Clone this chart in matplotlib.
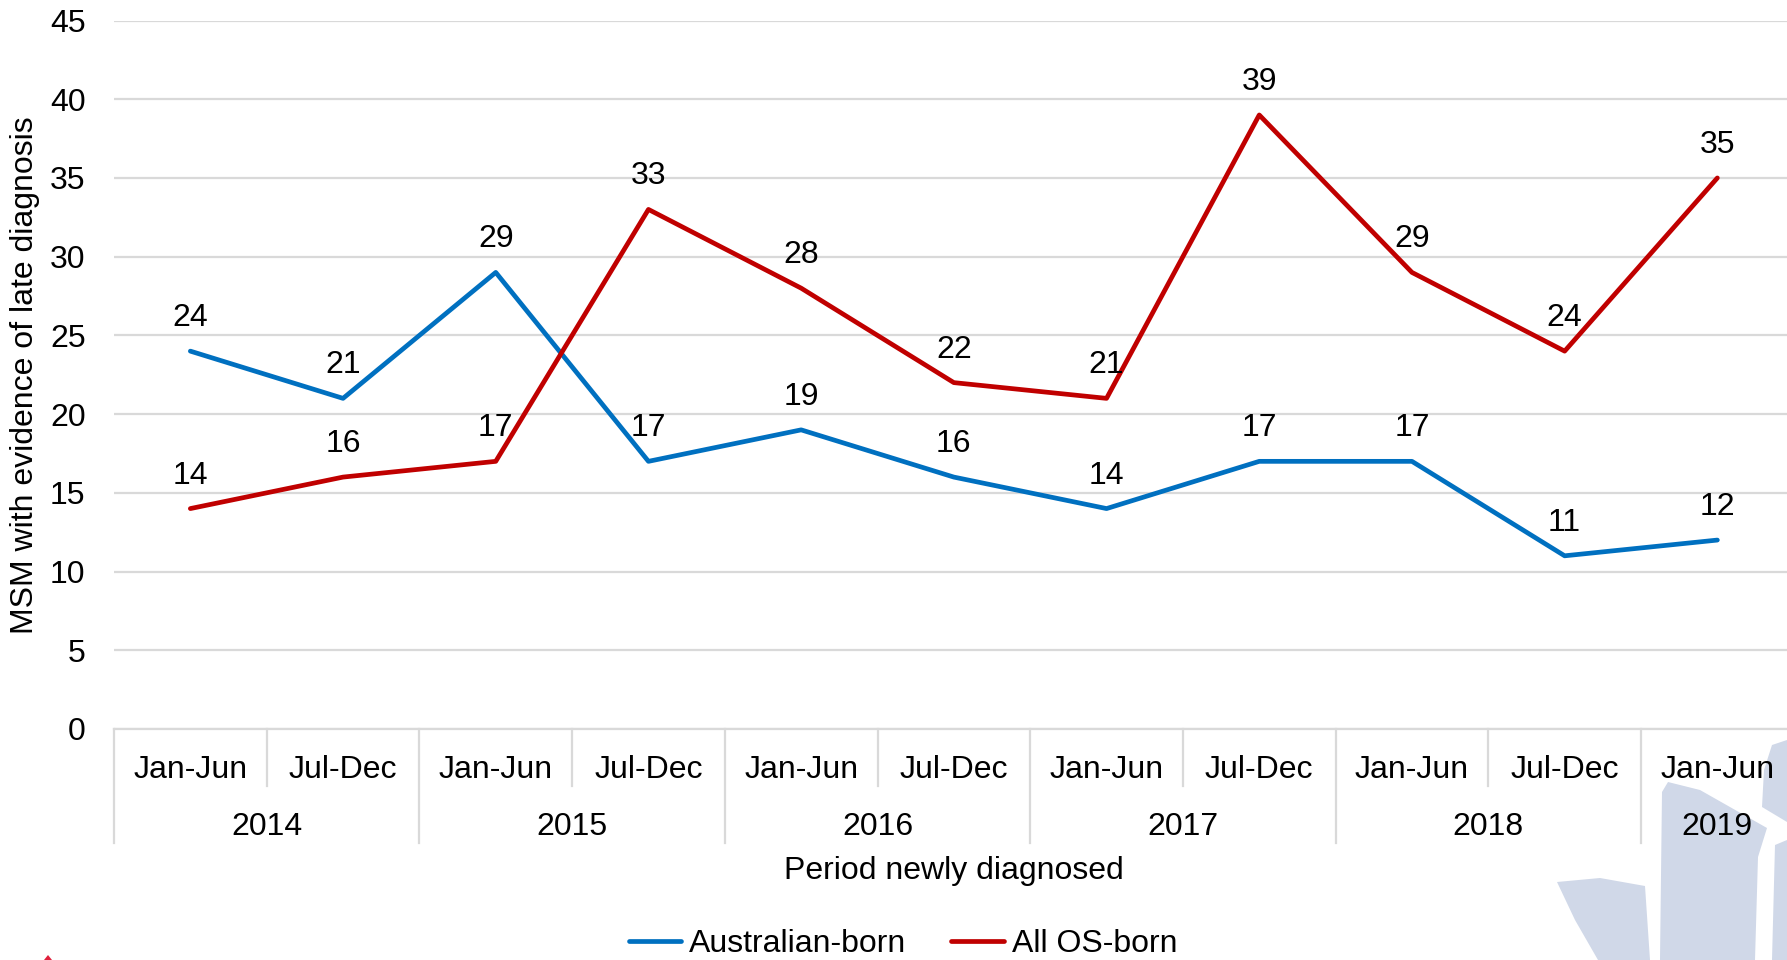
import matplotlib
matplotlib.use("Agg")
import matplotlib.pyplot as plt
from matplotlib.patches import Polygon
from matplotlib.transforms import blended_transform_factory

plt.rcParams['font.family'] = ['Liberation Sans', 'DejaVu Sans']

# ---- data ----
periods = ["Jan-Jun", "Jul-Dec", "Jan-Jun", "Jul-Dec", "Jan-Jun", "Jul-Dec",
           "Jan-Jun", "Jul-Dec", "Jan-Jun", "Jul-Dec", "Jan-Jun"]
years = ["2014", "2015", "2016", "2017", "2018", "2019"]
australian_born = [24, 21, 29, 17, 19, 16, 14, 17, 17, 11, 12]
os_born = [14, 16, 17, 33, 28, 22, 21, 39, 29, 24, 35]
yticks = [0, 5, 10, 15, 20, 25, 30, 35, 40, 45]

BLUE = "#0070C0"
RED = "#C00000"
GRID = "#D9D9D9"
FS = 23

W, H = 1787, 960
fig = plt.figure(figsize=(W / 100, H / 100), dpi=100)

def fx(px):
    return px / W

def fy(py):
    return 1 - py / H

# decorative logo shapes (bottom right), drawn behind everything
logo_col = "#D0D8E8"
shapes = [
    [(1557, 882), (1600, 878), (1645, 886), (1650, 960), (1598, 960), (1575, 920)],
    [(1662, 792), (1668, 782), (1700, 790), (1767, 828), (1758, 857), (1755, 960), (1660, 960)],
    [(1772, 745), (1787, 740), (1787, 822), (1762, 807), (1764, 770)],
    [(1775, 845), (1787, 840), (1787, 960), (1772, 960)],
]
for s in shapes:
    fig.patches.append(Polygon([(fx(x), fy(y)) for x, y in s], closed=True,
                               facecolor=logo_col, edgecolor='none',
                               transform=fig.transFigure, zorder=-5))
fig.patches.append(Polygon([(fx(44), fy(960)), (fx(48), fy(955)), (fx(52), fy(960))],
                           closed=True, facecolor="#E0203C", edgecolor='none',
                           transform=fig.transFigure, zorder=-5))

left_px, cat_w = 114, 152.7
top_px, bot_px = 20.5, 729
ax = fig.add_axes([fx(left_px), fy(bot_px), 11 * cat_w / W, (bot_px - top_px) / H])
ax.set_facecolor('none')
ax.set_zorder(2)

x = list(range(len(periods)))
ax.plot(x, australian_born, color=BLUE, lw=3.4, label="Australian-born",
        solid_capstyle='round', solid_joinstyle='round', zorder=3)
ax.plot(x, os_born, color=RED, lw=3.4, label="All OS-born",
        solid_capstyle='round', solid_joinstyle='round', zorder=3)

for series in (australian_born, os_born):
    for xi, v in zip(x, series):
        ax.annotate(str(v), (xi, v), xytext=(0, 33), textcoords='offset pixels',
                    ha='center', va='center', fontsize=FS, color='black', zorder=4)

ax.set_xlim(-0.5, len(periods) - 0.5)
ax.set_ylim(0, 45)
ax.set_yticks(yticks)
ax.tick_params(axis='y', length=0, labelsize=FS, pad=20.5)
ax.grid(axis='y', color=GRID, lw=1.6, zorder=1)
ax.set_axisbelow(True)
for sp in ['top', 'right', 'left']:
    ax.spines[sp].set_visible(False)
ax.spines['bottom'].set_color(GRID)
ax.spines['bottom'].set_linewidth(1.6)

ax.set_xticks(x)
ax.set_xticklabels([])
ax.tick_params(axis='x', length=0)

trans = blended_transform_factory(ax.transData, fig.transFigure)
# category labels
for xi, p in zip(x, periods):
    ax.text(xi, fy(770), p, transform=trans, ha='center', va='center', fontsize=FS)
# year labels (centered over their categories)
for i, yr in enumerate(years):
    cats = [c for c in x if c // 2 == i]
    ax.text(sum(cats) / len(cats), fy(827), yr, transform=trans,
            ha='center', va='center', fontsize=FS)
# separators
for b in range(len(periods) + 1):
    bx = b - 0.5
    end = 843 if b % 2 == 0 else 786
    ax.plot([bx, bx], [fy(bot_px), fy(end)], transform=trans, color=GRID,
            lw=1.6, clip_on=False, zorder=1)

fig.text(fx(left_px + 11 * cat_w / 2), fy(870.5), "Period newly diagnosed",
         ha='center', va='center', fontsize=FS)
fig.text(fx(25), fy((top_px + bot_px) / 2), "MSM with evidence of late diagnosis",
         rotation=90, ha='center', va='center', fontsize=FS)

fig.legend(loc='center', bbox_to_anchor=(fx(903), fy(944)), ncol=2, frameon=False,
           fontsize=FS, handlelength=1.65, handletextpad=0.25, columnspacing=1.4)

fig.savefig("out.png", dpi=100)
